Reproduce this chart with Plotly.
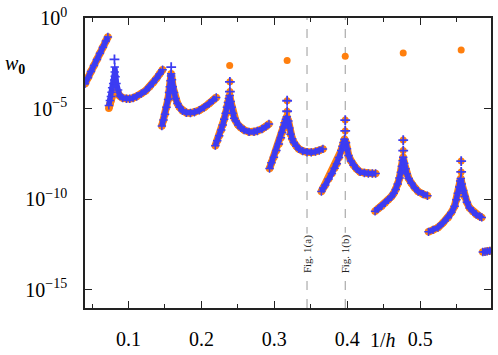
import plotly.graph_objects as go

# ---- data: x = 1/h, values given as log10(w0) ----
seg0_x = [0.0404, 0.0445, 0.0486, 0.0527, 0.0568, 0.0609, 0.0650, 0.0690, 0.0718]
seg0_lw = [-3.628, -3.292, -2.956, -2.619, -2.283, -1.947, -1.611, -1.274, -1.052]

# segment 1: series-specific rise, then shared tail
seg1_blue_x = [0.0731, 0.0745, 0.0759, 0.0768, 0.0776, 0.0790, 0.0804, 0.0812, 0.0812, 0.0812,
               0.0823, 0.0836, 0.0858]
seg1_blue_lw = [-4.821, -4.550, -4.333, -4.100, -3.845, -3.612, -3.427, -3.210, -2.977, -2.706,
                -3.248, -3.612, -3.970]
seg1_orange_x = [0.0731, 0.0745, 0.0759, 0.0772, 0.0786, 0.0800, 0.0814, 0.0828, 0.0841, 0.0861]
seg1_orange_lw = [-4.984, -4.767, -4.550, -4.306, -4.062, -3.899, -3.818, -3.899, -4.062, -4.225]
seg1_x = [0.0881, 0.0922, 0.0973, 0.1018, 0.1063, 0.1113, 0.1177, 0.1236, 0.1290, 0.1338,
          0.1382, 0.1427, 0.1468]
seg1_lw = [-4.306, -4.414, -4.458, -4.458, -4.414, -4.333, -4.170, -4.008, -3.791, -3.574,
           -3.341, -3.086, -2.853]

seg2_x = [0.1458, 0.1481, 0.1502, 0.1522, 0.1543, 0.1556, 0.1567, 0.1577, 0.1584, 0.1586,
          0.1597, 0.1608, 0.1625, 0.1645, 0.1672, 0.1700, 0.1740, 0.1795, 0.1850, 0.1904,
          0.1972, 0.2040, 0.2108, 0.2163, 0.2204]
seg2_lw = [-5.960, -5.634, -5.309, -4.929, -4.496, -4.116, -3.791, -3.465, -3.194, -3.069,
           -3.411, -3.791, -4.116, -4.441, -4.713, -4.929, -5.119, -5.228, -5.244, -5.201,
           -5.092, -4.929, -4.713, -4.523, -4.387]

seg3_x = [0.2191, 0.2218, 0.2245, 0.2273, 0.2293, 0.2313, 0.2334, 0.2350, 0.2364, 0.2377,
          0.2388, 0.2402, 0.2416, 0.2429, 0.2450, 0.2473, 0.2504, 0.2541, 0.2586, 0.2654,
          0.2722, 0.2767, 0.2831, 0.2886, 0.2927]
seg3_lw = [-7.044, -6.773, -6.502, -6.177, -5.906, -5.580, -5.255, -4.929, -4.658, -4.441,
           -4.279, -4.604, -4.929, -5.255, -5.526, -5.689, -5.906, -6.052, -6.177, -6.285,
           -6.285, -6.231, -6.123, -5.987, -5.851]

seg4_x = [0.2935, 0.2961, 0.2995, 0.3029, 0.3063, 0.3091, 0.3108, 0.3127, 0.3141, 0.3159,
          0.3172, 0.3193, 0.3206, 0.3223, 0.3245, 0.3268, 0.3302, 0.3336, 0.3391, 0.3449,
          0.3507, 0.3564, 0.3616, 0.3667]
seg4_lw = [-8.308, -7.993, -7.679, -7.316, -6.952, -6.611, -6.323, -6.014, -5.781, -5.580,
           -5.445, -5.689, -6.068, -6.410, -6.665, -6.865, -7.072, -7.223, -7.343, -7.408,
           -7.413, -7.370, -7.316, -7.223]

seg5_x = [0.3646, 0.3670, 0.3700, 0.3745, 0.3790, 0.3827, 0.3858, 0.3888, 0.3918, 0.3936,
          0.3950, 0.3963, 0.3984, 0.3997, 0.4018, 0.4052, 0.4086, 0.4127, 0.4177, 0.4236,
          0.4290, 0.4345, 0.4390]
seg5_lw = [-9.577, -9.376, -9.214, -8.888, -8.579, -8.292, -8.037, -7.695, -7.316, -7.072,
           -6.865, -6.692, -6.882, -7.207, -7.587, -7.885, -8.129, -8.319, -8.492, -8.552,
           -8.579, -8.579, -8.579]

seg6_x = [0.4382, 0.4427, 0.4472, 0.4518, 0.4563, 0.4604, 0.4638, 0.4666, 0.4693, 0.4717,
          0.4737, 0.4750, 0.4761, 0.4768, 0.4782, 0.4799, 0.4816, 0.4843, 0.4881, 0.4927,
          0.4973, 0.5041, 0.5100]
seg6_lw = [-10.661, -10.515, -10.380, -10.206, -10.027, -9.864, -9.675, -9.458, -9.159, -8.834,
           -8.509, -8.183, -7.858, -7.679, -8.020, -8.319, -8.590, -8.861, -9.121, -9.376,
           -9.577, -9.718, -9.810]

seg7_x = [0.5115, 0.5177, 0.5245, 0.5313, 0.5382, 0.5429, 0.5473, 0.5498, 0.5518, 0.5536,
          0.5549, 0.5558, 0.5572, 0.5590, 0.5609, 0.5641, 0.5678, 0.5723, 0.5768, 0.5818, 0.5845]
seg7_lw = [-11.800, -11.692, -11.562, -11.302, -11.019, -10.732, -10.390, -10.027, -9.664, -9.322,
           -8.997, -8.850, -9.159, -9.512, -9.848, -10.163, -10.477, -10.678, -10.840, -10.949, -11.000]

seg8_x = [0.5859, 0.5890, 0.5920, 0.5954, 0.5995]
seg8_lw = [-12.910, -12.895, -12.874, -12.847, -12.820]

# isolated points near the resonances
peak_both_x = [0.2391, 0.2391, 0.3176, 0.3176, 0.3973, 0.3973, 0.4768, 0.4768, 0.5563, 0.5563]
peak_both_lw = [-4.062, -3.519, -5.146, -4.566, -6.231, -5.634, -7.316, -6.735, -8.492, -7.896]
peak_orange_x = [0.2388, 0.3176, 0.3973, 0.4768, 0.5563]
peak_orange_lw = [-2.614, -2.343, -2.110, -1.931, -1.768]
peak_blue_x = [0.0808, 0.1586]
peak_blue_lw = [-2.288, -2.706]

fig_lines_x = [0.3449, 0.3973]
fig_lines_text = ["Fig. 1(a)", "Fig. 1(b)"]

x_ticks = [0.1, 0.2, 0.3, 0.4, 0.5]
x_minor = [0.05, 0.15, 0.25, 0.35, 0.45, 0.55]
y_ticks = [1, 1e-5, 1e-10, 1e-15]
y_ticktext = ["10<sup>0</sup>", "10<sup>\u22125</sup>", "10<sup>\u221210</sup>", "10<sup>\u221215</sup>"]

ORANGE = "#ff7f0e"
BLUE = "#3c3cf2"


def join(segs):
    xs, ys = [], []
    for sx, sl in segs:
        xs += list(sx) + [None]
        ys += [10 ** v for v in sl] + [None]
    return xs, ys


common = [(seg2_x, seg2_lw), (seg3_x, seg3_lw), (seg4_x, seg4_lw), (seg5_x, seg5_lw),
          (seg6_x, seg6_lw), (seg7_x, seg7_lw), (seg8_x, seg8_lw)]
ox, oy = join([(seg0_x, seg0_lw), (seg1_orange_x + seg1_x, seg1_orange_lw + seg1_lw)] + common)
bx, by = join([(seg0_x, seg0_lw), (seg1_blue_x + seg1_x, seg1_blue_lw + seg1_lw)] + common)

fig = go.Figure()
for xv, txt in zip(fig_lines_x, fig_lines_text):
    fig.add_shape(type="line", x0=xv, x1=xv, y0=0, y1=1, xref="x", yref="paper",
                  line=dict(color="#9a9a9a", width=1, dash="dash"), layer="below")
    fig.add_annotation(x=xv, y=0.186, xref="x", yref="paper", text=txt, textangle=-90,
                       xanchor="center", yanchor="middle",
                       showarrow=False, bgcolor="white", borderpad=1,
                       font=dict(family="Liberation Serif", size=11, color="#222"))

fig.add_trace(go.Scatter(x=ox, y=oy, mode="lines+markers",
                         line=dict(color=ORANGE, width=7.5),
                         marker=dict(color=ORANGE, size=7.5, symbol="circle"),
                         connectgaps=False, hoverinfo="skip"))
fig.add_trace(go.Scatter(x=peak_both_x + peak_orange_x,
                         y=[10 ** v for v in peak_both_lw + peak_orange_lw],
                         mode="markers", marker=dict(color=ORANGE, size=7, symbol="circle")))
fig.add_trace(go.Scatter(x=bx, y=by, mode="lines+markers",
                         line=dict(color=BLUE, width=5.5),
                         marker=dict(color=BLUE, size=6, symbol="cross-thin",
                                     line=dict(color=BLUE, width=1.5)),
                         connectgaps=False, hoverinfo="skip"))
fig.add_trace(go.Scatter(x=peak_both_x + peak_blue_x,
                         y=[10 ** v for v in peak_both_lw + peak_blue_lw],
                         mode="markers", marker=dict(color=BLUE, size=7, symbol="cross-thin",
                                                     line=dict(color=BLUE, width=1.8))))

axis_common = dict(ticks="inside", ticklen=7, tickwidth=1.2, tickcolor="#222",
                   showline=True, linecolor="#222", linewidth=1.5, mirror="ticks",
                   showgrid=False, zeroline=False)
fig.update_xaxes(range=[0.0404, 0.5972], tickvals=x_ticks, ticktext=[str(v) for v in x_ticks],
                 minor=dict(ticks="inside", ticklen=4, tickvals=x_minor, tickcolor="#222", tickwidth=1.2),
                 ticklabelstandoff=12, **axis_common)
fig.update_yaxes(type="log", range=[-16, 0], tickvals=y_ticks, ticktext=y_ticktext,
                 ticklabelstandoff=12, **axis_common)

fig.add_annotation(x=-0.172, y=0.84, xref="paper", yref="paper", showarrow=False,
                   xanchor="center", yanchor="middle",
                   text="<i>w</i><sub><b>0</b></sub>", font=dict(size=20))
fig.add_annotation(x=0.733, y=-0.112, xref="paper", yref="paper", showarrow=False,
                   xanchor="center", yanchor="middle",
                   text="1/<i>h</i>", font=dict(size=20))

fig.update_layout(width=498, height=355, margin=dict(l=85, r=5, t=15, b=45),
                  paper_bgcolor="white", plot_bgcolor="white", showlegend=False,
                  font=dict(family="Liberation Serif", size=20, color="black"))

fig.write_html("out.html")
